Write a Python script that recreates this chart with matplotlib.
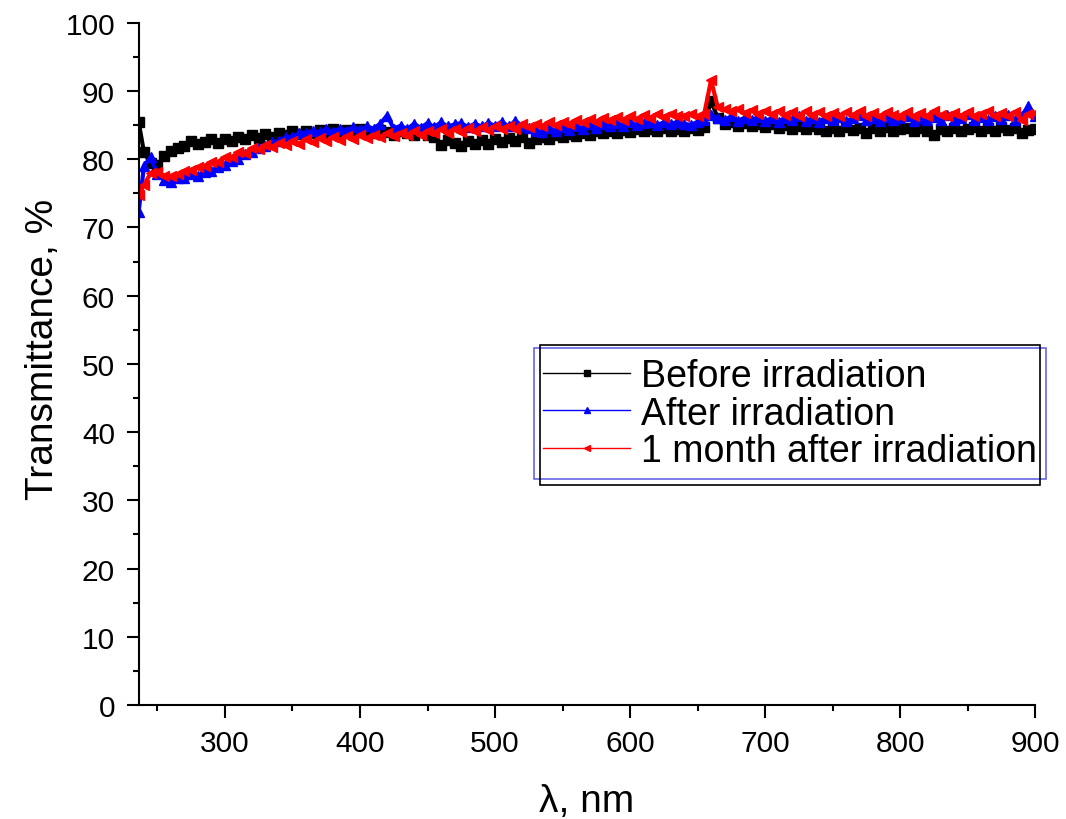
"""
Transmittance spectra before / after irradiation, redrawn as a static PNG.
"""

import matplotlib

matplotlib.use("Agg")
import matplotlib.pyplot as plt
from matplotlib.patches import Rectangle
from matplotlib.ticker import MultipleLocator

plt.rcParams["font.family"] = ["Liberation Sans", "DejaVu Sans"]

# wavelength grid (nm) at ~5 nm steps
wavelength = [
    236, 240, 245, 250, 255, 260, 265, 270, 275, 280,
    285, 290, 295, 300, 305, 310, 315, 320, 325, 330,
    335, 340, 345, 350, 355, 360, 365, 370, 375, 380,
    385, 390, 395, 400, 405, 410, 415, 420, 425, 430,
    435, 440, 445, 450, 455, 460, 465, 470, 475, 480,
    485, 490, 495, 500, 505, 510, 515, 520, 525, 530,
    535, 540, 545, 550, 555, 560, 565, 570, 575, 580,
    585, 590, 595, 600, 605, 610, 615, 620, 625, 630,
    635, 640, 645, 650, 655, 660, 665, 670, 675, 680,
    685, 690, 695, 700, 705, 710, 715, 720, 725, 730,
    735, 740, 745, 750, 755, 760, 765, 770, 775, 780,
    785, 790, 795, 800, 805, 810, 815, 820, 825, 830,
    835, 840, 845, 850, 855, 860, 865, 870, 875, 880,
    885, 890, 895, 900,
]

before = [
    85.5, 81.0, 79.4, 79.2, 80.4, 81.2, 81.7, 82.0, 82.6, 82.3,
    82.5, 82.9, 82.4, 83.0, 82.6, 83.3, 82.9, 83.5, 83.1, 83.7,
    83.3, 83.9, 83.5, 84.1, 83.7, 84.2, 83.8, 84.3, 83.9, 84.4,
    84.0, 84.3, 83.9, 84.4, 84.0, 83.9, 84.3, 84.0, 83.6, 84.1,
    83.8, 83.5, 84.0, 83.5, 83.2, 82.1, 82.8, 82.4, 82.0, 82.7,
    82.2, 82.8, 82.3, 83.0, 82.5, 83.1, 82.7, 83.2, 82.4, 82.9,
    83.3, 82.9, 83.5, 83.2, 83.7, 83.4, 83.9, 83.6, 84.1, 83.8,
    84.2, 83.9, 84.3, 84.0, 84.4, 84.1, 84.5, 84.1, 84.6, 84.2,
    84.5, 84.2, 84.6, 84.3, 84.7, 88.6, 86.0, 85.2, 85.5, 84.9,
    85.3, 84.8, 85.2, 84.7, 85.1, 84.6, 85.0, 84.5, 84.9, 84.4,
    84.8, 84.5, 84.2, 84.6, 84.1, 84.7, 84.3, 84.6, 83.9, 84.6,
    84.2, 84.7, 84.1, 84.5, 84.6, 84.1, 84.6, 84.2, 83.5, 84.5,
    84.1, 84.6, 84.2, 84.5, 84.7, 84.1, 84.6, 84.2, 84.7, 84.3,
    84.6, 83.8, 84.3, 84.4,
]

after = [
    72.2, 79.0, 80.3, 77.8, 77.0, 76.6, 77.3, 77.2, 77.8, 77.6,
    78.2, 78.3, 78.9, 79.1, 79.8, 80.1, 80.8, 81.1, 81.7, 82.0,
    82.5, 82.7, 83.2, 83.3, 83.8, 83.9, 84.1, 84.0, 84.4, 84.0,
    84.5, 84.2, 84.7, 84.3, 84.8, 84.5, 85.2, 86.4, 84.5, 84.9,
    84.4, 85.2, 84.6, 85.3, 84.7, 85.4, 84.8, 85.1, 85.3, 84.7,
    85.2, 84.8, 85.3, 84.9, 85.5, 84.8, 85.6, 84.9, 84.6, 84.2,
    84.0, 84.6, 84.1, 84.7, 84.3, 84.9, 84.5, 85.1, 84.6, 85.2,
    84.8, 85.3, 84.9, 85.4, 85.0, 85.3, 85.5, 85.0, 85.4, 85.1,
    85.5, 85.2, 85.0, 85.5, 85.7, 86.5, 86.0, 85.7, 86.3, 85.6,
    86.1, 85.7, 86.2, 85.6, 86.0, 85.5, 86.1, 85.7, 86.3, 85.6,
    86.0, 85.5, 86.1, 85.7, 86.2, 85.6, 86.0, 86.5, 85.7, 86.1,
    85.6, 86.2, 85.7, 86.0, 86.4, 85.6, 86.1, 85.7, 86.2, 85.8,
    86.5, 85.7, 86.1, 86.6, 85.8, 86.2, 85.7, 86.4, 85.9, 86.5,
    85.8, 86.3, 87.8, 86.4,
]

month_after = [
    74.8, 76.2, 78.0, 78.2, 77.6, 77.5, 77.8, 78.3, 78.4, 78.9,
    79.0, 79.6, 79.6, 80.3, 80.3, 81.0, 80.9, 81.6, 81.5, 82.1,
    81.8, 82.4, 82.1, 82.7, 82.3, 82.9, 82.5, 83.1, 82.7, 83.2,
    82.8, 83.4, 82.9, 83.5, 83.1, 83.6, 83.2, 83.8, 83.4, 83.9,
    83.5, 84.1, 83.6, 84.2, 83.8, 84.4, 83.9, 84.5, 84.0, 84.6,
    84.1, 84.7, 84.3, 84.8, 84.4, 84.9, 84.5, 85.1, 84.7, 85.2,
    84.8, 85.4, 85.0, 85.5, 85.2, 85.7, 85.4, 85.9, 85.5, 86.1,
    85.7, 86.2, 85.8, 86.3, 85.9, 86.5, 86.1, 86.6, 86.2, 86.7,
    86.3, 86.4, 86.6, 86.3, 86.7, 91.6, 87.6, 87.3, 87.0, 87.3,
    86.8, 87.2, 86.7, 87.1, 86.6, 87.0, 86.5, 86.9, 86.4, 87.0,
    86.5, 86.9, 86.4, 86.8, 86.3, 86.9, 86.5, 87.0, 86.4, 86.8,
    86.3, 86.9, 86.5, 86.4, 86.9, 86.3, 86.8, 86.4, 87.0, 86.5,
    86.3, 86.8, 86.4, 86.9, 86.3, 86.7, 87.0, 86.4, 86.8, 86.3,
    86.9, 85.8, 86.6, 86.8,
]

labels = ["Before irradiation", "After irradiation", "1 month after irradiation"]


def main():
    fig = plt.figure(figsize=(10.66, 8.2), dpi=100)
    ax = fig.add_axes([0.130, 0.139, 0.841, 0.832])

    ax.plot(wavelength, before, color="black", lw=3, marker="s", ms=6.5,
            label=labels[0])
    ax.plot(wavelength, after, color="blue", lw=3, marker="^", ms=7,
            label=labels[1])
    ax.plot(wavelength, month_after, color="red", lw=3, marker="<", ms=6.5,
            label=labels[2])

    ax.set_xlim(236, 900)
    ax.set_ylim(0, 100)
    ax.xaxis.set_major_locator(MultipleLocator(100))
    ax.xaxis.set_minor_locator(MultipleLocator(50))
    ax.yaxis.set_major_locator(MultipleLocator(10))
    ax.yaxis.set_minor_locator(MultipleLocator(5))

    for side in ("top", "right"):
        ax.spines[side].set_visible(False)
    for side in ("left", "bottom"):
        ax.spines[side].set_linewidth(1.5)
    ax.tick_params(which="major", direction="out", length=9, width=1.5,
                   labelsize=21.5, pad=8)
    ax.tick_params(which="minor", direction="out", length=4.5, width=1.5)

    ax.set_xlabel("λ, nm", fontsize=28, labelpad=19)
    ax.set_ylabel("Transmittance, %", fontsize=28)
    ax.yaxis.set_label_coords(-0.086, 0.522)

    leg = ax.legend(loc="upper left", bbox_to_anchor=(0.501, 0.574),
                    bbox_transform=fig.transFigure,
                    fontsize=27, frameon=True, fancybox=False,
                    handlelength=2.3, handletextpad=0.3, borderpad=0.25,
                    labelspacing=0.05, borderaxespad=0, markerscale=0.6)
    leg.get_frame().set_edgecolor("#4040e0")
    leg.get_frame().set_linewidth(1.2)
    for h in leg.get_lines():
        h.set_linewidth(1)

    # second (black) frame drawn around the legend, like the original
    fig.canvas.draw()
    bb = leg.get_window_extent().transformed(fig.transFigure.inverted())
    dx = 6 / 1066
    dy = 3 / 820
    fig.add_artist(Rectangle((bb.x0 + dx, bb.y0 - 2 * dy), bb.width - 2 * dx,
                             bb.height + 3 * dy, transform=fig.transFigure,
                             fill=False, edgecolor="black", lw=1.2, zorder=4))

    fig.savefig("out.png", dpi=100, facecolor="white")
    plt.close(fig)


if __name__ == "__main__":
    main()
